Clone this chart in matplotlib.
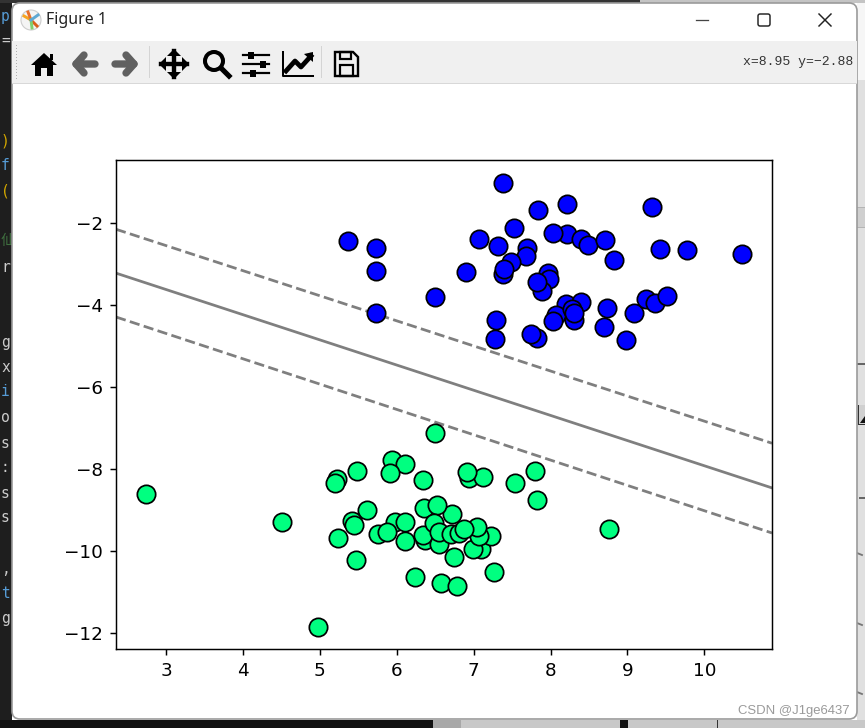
# -*- coding: utf-8 -*-
# SVM separating hyperplane, drawn inside a copy of the matplotlib window
import numpy as np
import matplotlib
matplotlib.use('Agg')
import matplotlib.pyplot as plt
from matplotlib.patches import Rectangle, FancyBboxPatch, Polygon, Circle

#the two blobs
blue_x = [7.38, 7.84, 8.22, 9.32, 7.53, 7.07, 7.32, 8.22, 8.39, 8.03, 8.49, 8.71, 9.43, 9.77, 10.49,
          8.82, 7.70, 7.68, 7.49, 6.90, 7.38, 7.40, 7.97, 7.98, 7.89, 7.83, 8.20, 8.39, 8.07, 8.03,
          8.31, 8.28, 8.31, 8.74, 8.69, 8.98, 9.08, 9.24, 9.36, 9.51, 7.29, 7.28, 7.83, 7.74, 5.37,
          5.73, 5.73, 5.73, 6.50]
blue_y = [-1.02, -1.68, -1.54, -1.61, -2.12, -2.39, -2.56, -2.27, -2.39, -2.24, -2.54, -2.41, -2.63, -2.66, -2.76,
          -2.90, -2.61, -2.80, -2.95, -3.20, -3.24, -3.12, -3.22, -3.37, -3.66, -3.44, -3.98, -3.93, -4.24, -4.39,
          -4.37, -4.10, -4.20, -4.07, -4.54, -4.85, -4.20, -3.85, -3.95, -3.78, -4.37, -4.83, -4.80, -4.71, -2.44,
          -2.61, -3.17, -4.20, -3.80]

green_x = [6.50, 5.94, 6.11, 5.91, 5.48, 5.22, 5.20, 6.34, 6.94, 7.12, 6.92, 7.54, 7.80, 7.83, 6.36,
           6.72, 6.53, 5.62, 5.42, 5.45, 5.24, 5.76, 5.98, 5.88, 6.11, 6.11, 5.47, 6.37, 6.34, 6.49,
           6.55, 6.55, 7.10, 6.99, 6.75, 7.23, 7.07, 7.05, 6.71, 6.81, 6.88, 6.24, 6.58, 6.79, 7.27,
           2.74, 4.51, 4.98, 8.76]
green_y = [-7.12, -7.78, -7.88, -8.10, -8.05, -8.24, -8.34, -8.27, -8.22, -8.20, -8.07, -8.34, -8.05, -8.76, -8.95,
           -9.10, -8.88, -9.00, -9.27, -9.37, -9.68, -9.59, -9.29, -9.54, -9.29, -9.76, -10.22, -9.73, -9.61, -9.32,
           -9.83, -9.54, -9.95, -9.95, -10.15, -9.63, -9.63, -9.41, -9.59, -9.56, -9.46, -10.63, -10.78, -10.85, -10.51,
           -8.61, -9.29, -11.85, -9.46]

#decision boundary and margins at the two ends of the x range
line_x = [2.35, 10.88]
boundary_y = [-3.22, -8.46]
margin_up_y = [-2.15, -7.37]
margin_down_y = [-4.29, -9.56]

side_letters = ['p', '=', ')', 'f', '(', '仙', 'r', 'g', 'x', 'i', 'o', 's', ':', 's', 's', ',', 't', 'g']
side_colors = ['#569cd6', '#cccccc', '#d4a800', '#569cd6', '#d4a800', '#3f6f3f', '#cccccc', '#cccccc', '#cccccc',
               '#569cd6', '#cccccc', '#cccccc', '#cccccc', '#cccccc', '#cccccc', '#cccccc', '#569cd6', '#cccccc']
side_rows = [17, 40, 141, 166, 191, 240, 267, 343, 367, 391, 418, 443, 467, 493, 518, 569, 593, 619]

W, H = 865, 728
plt.rcParams['font.family'] = ['DejaVu Sans', 'Noto Sans CJK SC']
fig = plt.figure(figsize=(W / 132, H / 132), dpi=132, facecolor='white')

#window chrome, in pixels
bg = fig.add_axes([0, 0, 1, 1], zorder=0)
bg.set_xlim(0, W)
bg.set_ylim(H, 0)
bg.axis('off')

def box(x, y, w, h, c, z=1):
    bg.add_patch(Rectangle((x, y), w, h, fc=c, ec='none', zorder=z))

box(0, 0, 12, H, '#1e1e1e')
box(0, 0, 640, 3, '#333333')
box(640, 0, 225, 3, '#c4c4c4')
box(857, 3, 8, 77, '#f6f6f6')
box(857, 80, 8, 640, '#e0e0e0')
box(857, 207, 8, 20, '#cfcfcf')
box(857, 207, 8, 1, '#b4b4b4')
box(857, 227, 8, 1, '#b4b4b4')
box(857, 405, 8, 20, '#d0d0d0')
box(858, 405, 1, 20, '#333333')
box(858, 424, 7, 1.2, '#333333')
bg.add_patch(Polygon([(860, 423), (865, 416), (865, 423)], fc='#111111', ec='none', zorder=2))
box(857, 363, 8, 2, '#666666')
box(12, 720, 853, 8, '#c8c8c8')
box(0, 720, 433, 8, '#111111')
box(433, 720, 28, 8, '#a8a8a8')
box(620, 720, 8, 8, '#111111')
box(717, 720, 1, 8, '#333333')
box(859, 497, 6, 1.5, '#666666')
for yy in [553, 623, 692]:
    bg.plot([857, 862], [yy, yy + 2], color='#777777', lw=1, zorder=2)
bg.add_patch(FancyBboxPatch((16, 7), 837, 708, boxstyle='round,pad=4,rounding_size=8',
                            fc='white', ec='#9a9a9a', lw=0.9, zorder=3))
box(12, 41, 845, 42, '#f0f0f0', 4)
box(12, 83, 845, 1.2, '#d8d8d8', 4)
box(149, 46, 1, 32, '#d4d4d4', 5)
box(321, 46, 1, 32, '#d4d4d4', 5)
for yy in range(45, 80, 3):
    box(15.5, yy, 1.3, 1.3, '#b0b0b0', 5)

for letter, c, yy in zip(side_letters, side_colors, side_rows):
    bg.text(1, yy, letter, color=c, fontsize=8, family=['DejaVu Sans Mono', 'Noto Sans CJK SC'],
            va='center', ha='left', zorder=2, clip_on=True)

#title bar
bg.add_patch(Circle((31, 20), 10, fc='#f4f4f4', ec='#cccccc', lw=0.6, zorder=5))
for dx, dy, c in [(-7, -4, '#f6a623'), (-3, -8, '#e8702a'), (6, 6, '#d9601a'), (1, 8, '#7fcf6f'), (7, -5, '#5fa8d3')]:
    bg.plot([31, 31 + dx], [20, 20 + dy], color=c, lw=1.6, zorder=6)
bg.text(46, 20, 'Figure 1', fontsize=8.7, family='Noto Sans', color='#222222', va='center', zorder=6)
bg.plot([696, 708], [20, 20], color='#444444', lw=0.7, zorder=6)
bg.add_patch(FancyBboxPatch((759, 15), 10, 10, boxstyle='round,pad=1,rounding_size=2',
                            fc='none', ec='#222222', lw=0.8, zorder=6))
bg.plot([819, 831], [14, 26], color='#222222', lw=0.8, zorder=6)
bg.plot([819, 831], [26, 14], color='#222222', lw=0.8, zorder=6)

#toolbar icons
ink = '#000000'
gr = '#606060'
bg.add_patch(Polygon([(31, 65), (44, 53), (57, 65), (53, 65), (53, 76), (47, 76), (47, 68), (41, 68), (41, 76),
                      (35, 76), (35, 65)], fc=ink, ec='none', zorder=6))
box(50, 54, 3, 6, ink, 6)
bg.plot([95, 76, 84], [64, 64, 55], color=gr, lw=4, zorder=6, solid_capstyle='round')
bg.plot([76, 84], [64, 73], color=gr, lw=4, zorder=6, solid_capstyle='round')
bg.plot([115, 134, 126], [64, 64, 55], color=gr, lw=4, zorder=6, solid_capstyle='round')
bg.plot([134, 126], [64, 73], color=gr, lw=4, zorder=6, solid_capstyle='round')
bg.plot([161, 187], [64, 64], color=ink, lw=2.4, zorder=6)
bg.plot([174, 174], [51, 77], color=ink, lw=2.4, zorder=6)
for pts in [[(159, 64), (166, 57), (166, 71)], [(189, 64), (182, 57), (182, 71)],
            [(174, 49), (167, 56), (181, 56)], [(174, 79), (167, 72), (181, 72)]]:
    bg.add_patch(Polygon(pts, fc=ink, ec='none', zorder=6))
bg.add_patch(Circle((214, 61), 9, fc='none', ec=ink, lw=2.2, zorder=6))
bg.plot([221, 229], [68, 76], color=ink, lw=2.8, zorder=6)
for yy, xx in [(55, 251), (64, 263), (73, 253)]:
    bg.plot([243, 269], [yy, yy], color=ink, lw=1.2, zorder=6)
    box(xx - 3, yy - 3.5, 6, 7, ink, 7)
bg.plot([283, 283, 313], [52, 76, 76], color=ink, lw=1.1, zorder=6)
bg.plot([286, 295, 301, 311], [71, 61, 67, 56], color=ink, lw=2.6, zorder=6)
bg.add_patch(Polygon([(313, 52), (313, 62), (304, 54)], fc=ink, ec='none', zorder=6))
bg.add_patch(Polygon([(335, 52), (353, 52), (358, 57), (358, 76), (335, 76)], fc='none', ec=ink, lw=1.3, zorder=6))
bg.add_patch(Rectangle((340, 52), 11, 7, fc='none', ec=ink, lw=1.2, zorder=6))
bg.add_patch(Rectangle((340, 65), 13, 11, fc='none', ec=ink, lw=1.2, zorder=6))
bg.text(853, 62, 'x=8.95 y=\u22122.88', fontsize=7.2, family='Liberation Mono', color='#333333',
        ha='right', va='center', zorder=6)
bg.text(850, 711, 'CSDN @J1ge6437', fontsize=7.2, family='Liberation Sans', color='#9a9a9a',
        ha='right', va='center', zorder=6)

#the chart itself
ax = fig.add_axes([116 / W, (H - 649) / H, 656 / W, 489 / H], zorder=2)
ax.scatter(blue_x, blue_y, s=100, c='#0000ff', edgecolors='k', linewidths=0.95, zorder=3)
ax.scatter(green_x, green_y, s=100, c='#00ff80', edgecolors='k', linewidths=0.95, zorder=3)
ax.plot(line_x, boundary_y, color='k', alpha=0.5, ls='-', zorder=2)
ax.plot(line_x, margin_up_y, color='k', alpha=0.5, ls='--', zorder=2)
ax.plot(line_x, margin_down_y, color='k', alpha=0.5, ls='--', zorder=2)
ax.set_xlim(2.35, 10.88)
ax.set_ylim(-12.39, -0.46)
ax.set_xticks(np.arange(3, 11))
ax.set_yticks([-12, -10, -8, -6, -4, -2])

fig.savefig('out.png', dpi=132)
